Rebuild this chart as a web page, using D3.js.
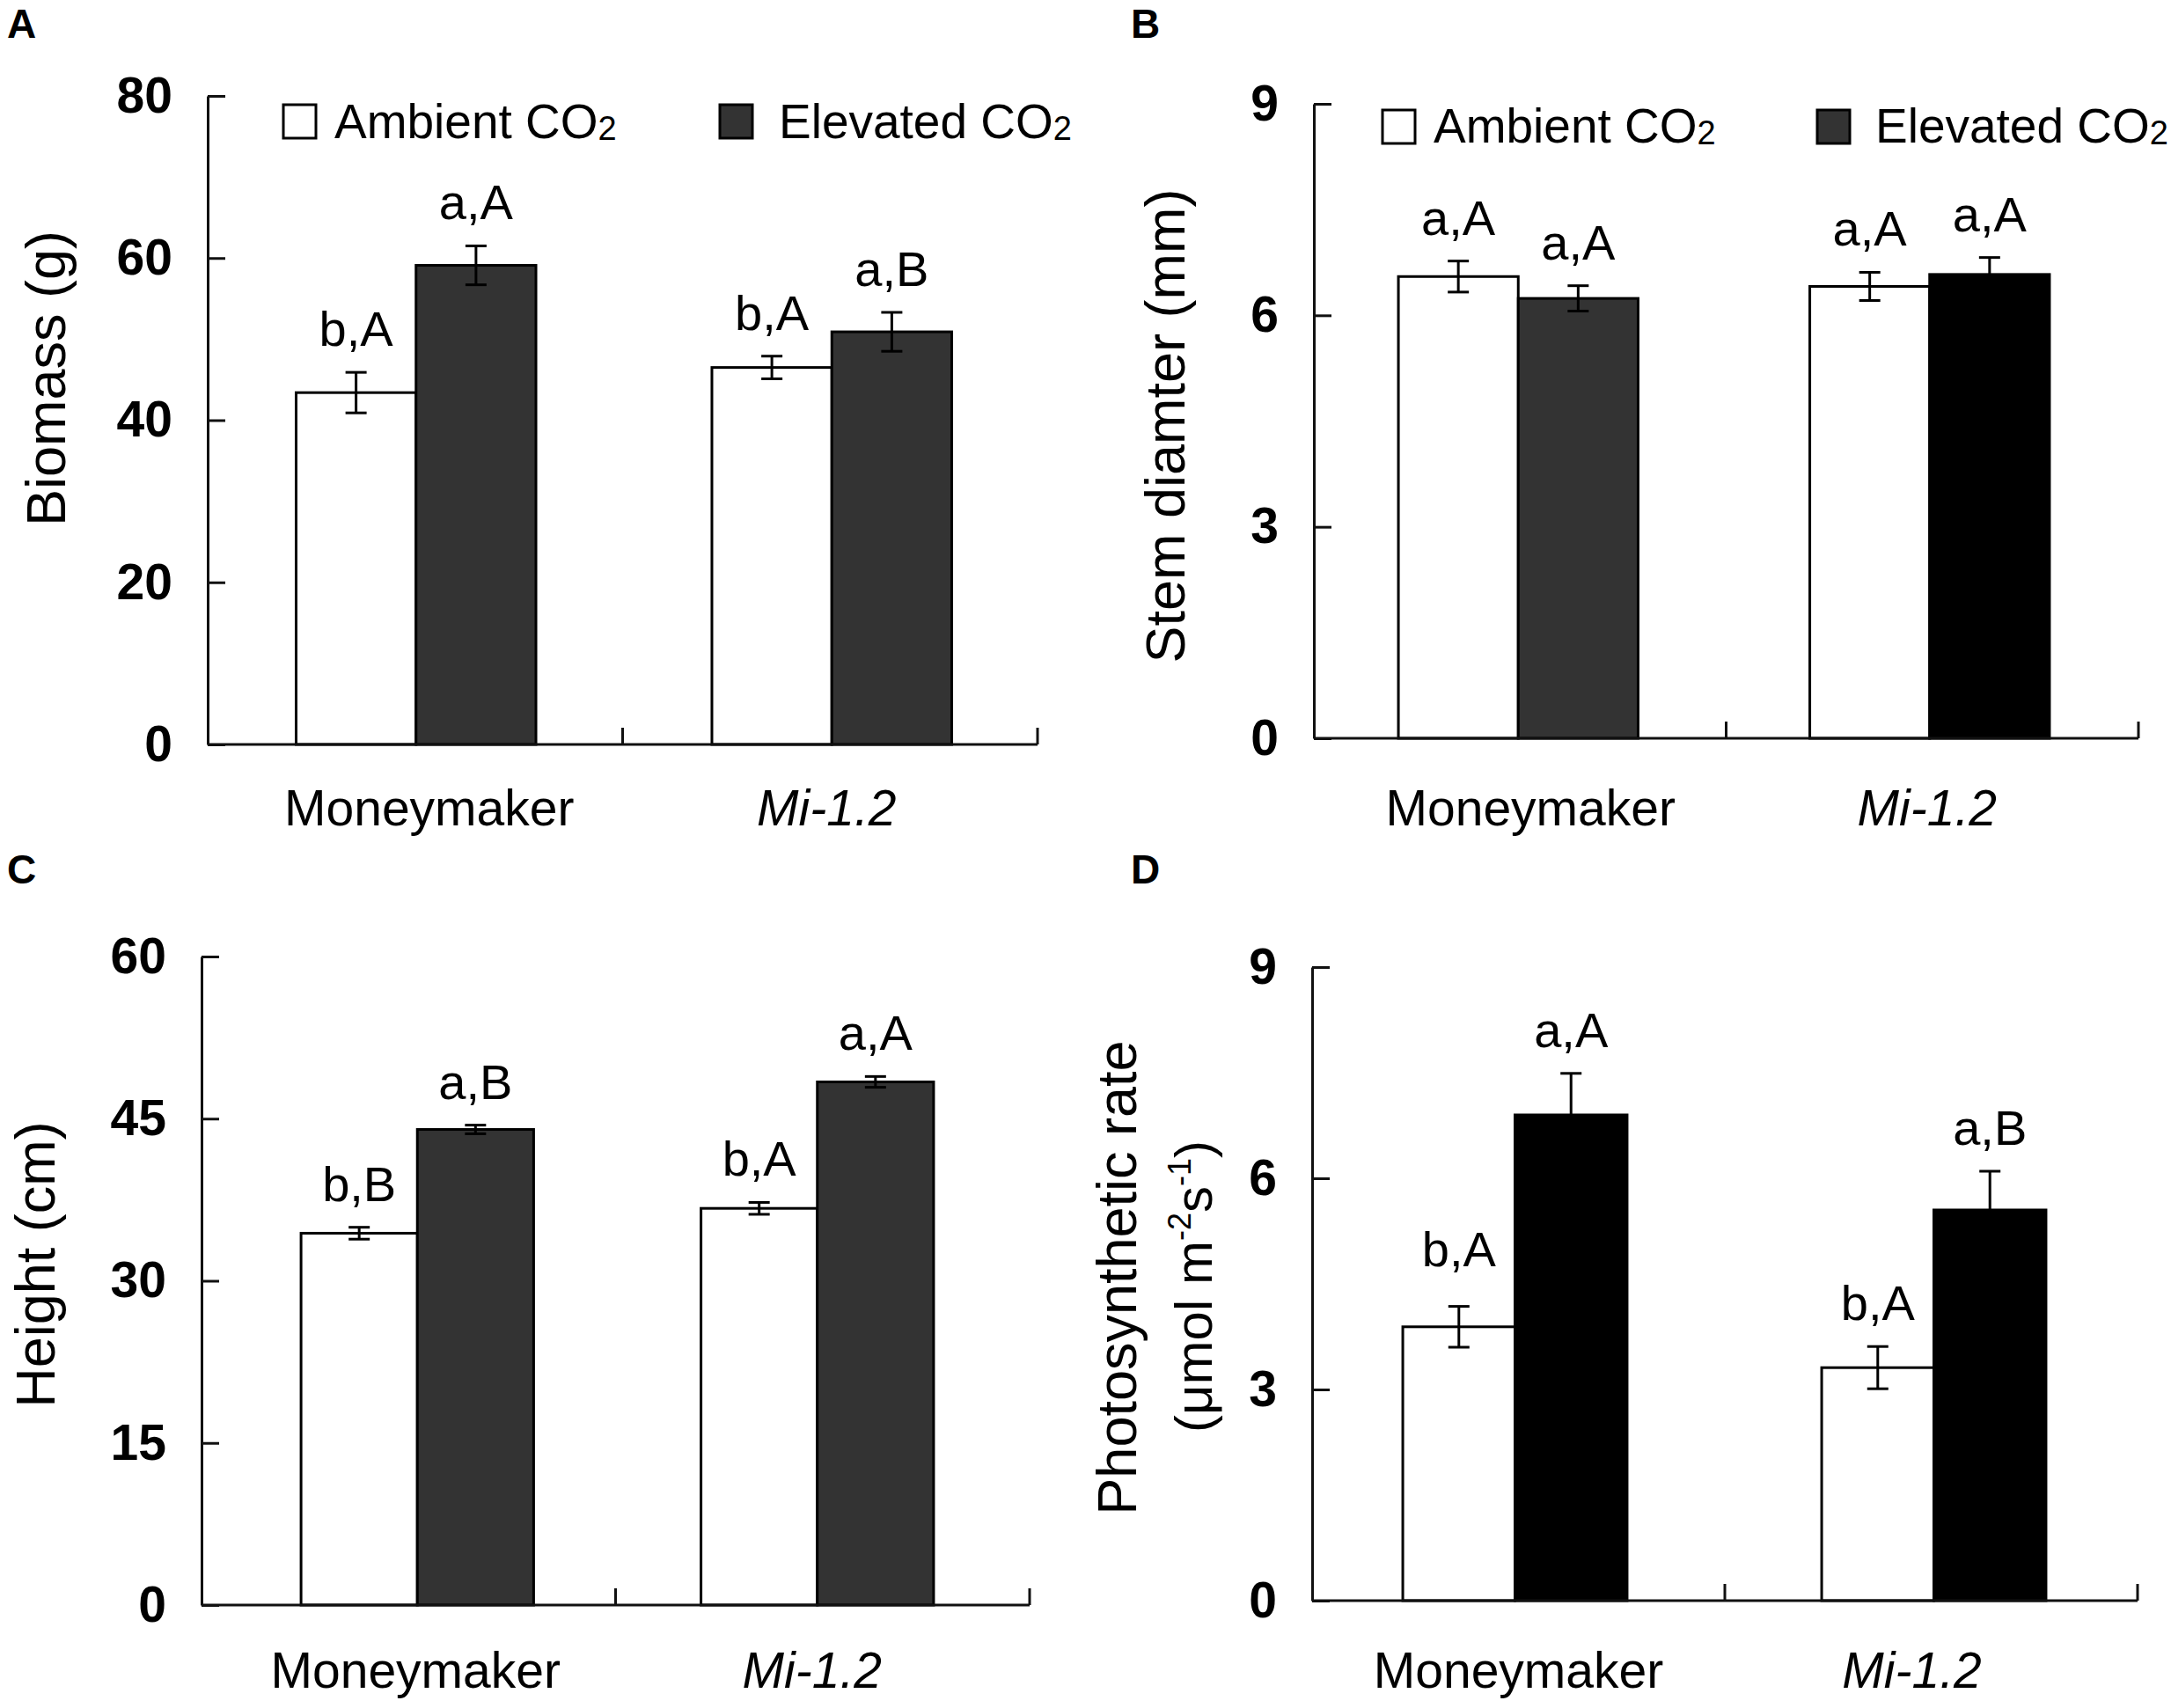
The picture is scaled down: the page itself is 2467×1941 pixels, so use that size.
<!DOCTYPE html>
<html>
<head>
<meta charset="utf-8">
<script src="https://cdn.jsdelivr.net/npm/d3@7/dist/d3.min.js"></script>
<style>
  html, body { margin: 0; padding: 0; background: #fff; }
  svg { display: block; }
  text { font-family: "Liberation Sans", Arial, sans-serif; fill: #000; }
</style>
</head>
<body>
<svg id="chart" width="2467" height="1941"></svg>
<script>
// ---------------- DATA ----------------
const categories = ["Moneymaker", "Mi-1.2"];
const seriesNames = ["Ambient CO", "Elevated CO"]; // subscript "2" appended as tspan

const biomassAmbient = [43.4, 46.5];
const biomassAmbientErr = [2.5, 1.4];
const biomassElevated = [59.1, 50.9];
const biomassElevatedErr = [2.4, 2.4];
const biomassLetters = [["b,A", "a,A"], ["b,A", "a,B"]];
const biomassTicks = [0, 20, 40, 60, 80];

const stemAmbient = [6.55, 6.41];
const stemAmbientErr = [0.22, 0.2];
const stemElevated = [6.24, 6.58];
const stemElevatedErr = [0.18, 0.24];
const stemLetters = [["a,A", "a,A"], ["a,A", "a,A"]];
const stemTicks = [0, 3, 6, 9];

const heightAmbient = [34.4, 36.7];
const heightAmbientErr = [0.55, 0.55];
const heightElevated = [44.0, 48.4];
const heightElevatedErr = [0.4, 0.5];
const heightLetters = [["b,B", "a,B"], ["b,A", "a,A"]];
const heightTicks = [0, 15, 30, 45, 60];

const photoAmbient = [3.89, 3.31];
const photoAmbientErr = [0.29, 0.3];
const photoElevated = [6.9, 5.55];
const photoElevatedErr = [0.59, 0.55];
const photoLetters = [["b,A", "a,A"], ["b,A", "a,B"]];
const photoTicks = [0, 3, 6, 9];

// ---------------- LAYOUT / STYLE ----------------
const panels = [
  { letter: "A", lx: 8, ly: 43,
    x0: 236, x1: 1179, yTop: 109, y0: 846,
    ambient: biomassAmbient, ambErr: biomassAmbientErr,
    elevated: biomassElevated, elevErr: biomassElevatedErr,
    letters: biomassLetters, ticks: biomassTicks,
    elevFill: ["#333333", "#333333"], pad: 0.73, groupDx: [1, 2],
    labelDy: [[0, 0], [0, 0]],
    title: [{ text: "Biomass (g)", x: 74, y: 430 }],
    legend: { y: 119, sq: [322, 818], tx: [380, 885], base: 157 },
    catY: 938, catDx: [16, -4] },
  { letter: "B", lx: 1285, ly: 43,
    x0: 1493, x1: 2430, yTop: 118, y0: 839,
    ambient: stemAmbient, ambErr: stemAmbientErr,
    elevated: stemElevated, elevErr: stemElevatedErr,
    letters: stemLetters, ticks: stemTicks,
    elevFill: ["#333333", "#000000"], pad: 0.72, groupDx: [-2, -3],
    labelDy: [[0, 0], [0, 0]],
    title: [{ text: "Stem diamter (mm)", x: 1346, y: 484 }],
    legend: { y: 125, sq: [1571, 2065], tx: [1629, 2131], base: 162 },
    catY: 938, catDx: [12, -6] },
  { letter: "C", lx: 8, ly: 1004,
    x0: 229, x1: 1170, yTop: 1087, y0: 1824,
    ambient: heightAmbient, ambErr: heightAmbientErr,
    elevated: heightElevated, elevErr: heightElevatedErr,
    letters: heightLetters, ticks: heightTicks,
    elevFill: ["#333333", "#333333"], pad: 0.78, groupDx: [10, -6],
    labelDy: [[0, 0], [0, 0]],
    title: [{ text: "Height (cm)", x: 62, y: 1437 }],
    legend: null,
    catY: 1918, catDx: [8, -12] },
  { letter: "D", lx: 1285, ly: 1004,
    x0: 1491, x1: 2429, yTop: 1099, y0: 1819,
    ambient: photoAmbient, ambErr: photoAmbientErr,
    elevated: photoElevated, elevErr: photoElevatedErr,
    letters: photoLetters, ticks: photoTicks,
    elevFill: ["#000000", "#000000"], pad: 0.84, groupDx: [-4, 3],
    labelDy: [[-16, 0], [0, 0]],
    title: [{ text: "Photosynthetic rate", x: 1291, y: 1452 },
            { text: "(\u03bcmol m", sup1: "-2", mid: "s", sup2: "-1", end: ")", x: 1377, y: 1462 }],
    legend: null,
    catY: 1918, catDx: [0, -22] }
];

const svg = d3.select("#chart");
svg.append("rect").attr("width", 2467).attr("height", 1941).attr("fill", "#fff");

const AX = "#111";

panels.forEach(p => {
  const g = svg.append("g");
  const maxV = p.ticks[p.ticks.length - 1];
  const y = d3.scaleLinear().domain([0, maxV]).range([p.y0, p.yTop]);
  const x = d3.scaleBand().domain(categories).range([p.x0, p.x1]);
  const xs = d3.scaleBand().domain([0, 1]).range([0, x.bandwidth()]).paddingInner(0).paddingOuter(p.pad);

  // panel letter
  g.append("text").attr("x", p.lx).attr("y", p.ly)
    .attr("font-size", 46).attr("font-weight", "bold").text(p.letter);

  // bars
  categories.forEach((c, i) => {
    const vals = [p.ambient[i], p.elevated[i]];
    const errs = [p.ambErr[i], p.elevErr[i]];
    const fills = ["#ffffff", p.elevFill[i]];
    const gx = x(c) + p.groupDx[i];
    vals.forEach((v, s) => {
      g.append("rect")
        .attr("x", gx + xs(s)).attr("y", y(v))
        .attr("width", xs.bandwidth()).attr("height", y(0) - y(v))
        .attr("fill", fills[s]).attr("stroke", "#000").attr("stroke-width", 3);
    });
    vals.forEach((v, s) => {
      const cx = gx + xs(s) + xs.bandwidth() / 2;
      const top = y(v + errs[s]), bot = y(v - errs[s]);
      const eg = g.append("g").attr("stroke", "#000").attr("stroke-width", 3);
      eg.append("line").attr("x1", cx).attr("x2", cx).attr("y1", top).attr("y2", bot);
      eg.append("line").attr("x1", cx - 12).attr("x2", cx + 12).attr("y1", top).attr("y2", top);
      eg.append("line").attr("x1", cx - 12).attr("x2", cx + 12).attr("y1", bot).attr("y2", bot);
      g.append("text").attr("x", cx).attr("y", top - 30 + p.labelDy[i][s])
        .attr("text-anchor", "middle").attr("font-size", 56)
        .text(p.letters[i][s]);
    });
  });

  // y axis
  const yAxis = d3.axisLeft(y).tickValues(p.ticks).tickSizeInner(-20).tickSizeOuter(0).tickPadding(40)
    .tickFormat(d3.format("d"));
  const ya = g.append("g").attr("transform", `translate(${p.x0},0)`).call(yAxis);
  ya.select(".domain").attr("stroke", AX).attr("stroke-width", 3);
  ya.selectAll(".tick line").attr("stroke", AX).attr("stroke-width", 3);
  ya.selectAll(".tick text").attr("font-size", 57).attr("font-weight", "bold")
    .attr("font-family", "'Liberation Sans', Arial, sans-serif").attr("fill", "#000");

  // x axis
  g.append("line").attr("x1", p.x0).attr("x2", p.x1).attr("y1", p.y0).attr("y2", p.y0)
    .attr("stroke", AX).attr("stroke-width", 3);
  categories.forEach(c => {
    const bx = x(c) + x.bandwidth();
    g.append("line").attr("x1", bx).attr("x2", bx).attr("y1", p.y0).attr("y2", p.y0 - 19)
      .attr("stroke", AX).attr("stroke-width", 3);
  });
  categories.forEach((c, i) => {
    g.append("text").attr("x", x(c) + x.bandwidth() / 2 + p.catDx[i]).attr("y", p.catY)
      .attr("text-anchor", "middle").attr("font-size", 57)
      .attr("font-style", i === 1 ? "italic" : "normal").text(c);
  });

  // y titles
  p.title.forEach(t => {
    const tt = g.append("text").attr("transform", `translate(${t.x},${t.y}) rotate(-90)`)
      .attr("text-anchor", "middle").attr("font-size", t.sup1 ? 60 : 63);
    if (t.sup1) {
      tt.append("tspan").text(t.text);
      tt.append("tspan").attr("font-size", 36).attr("dy", -24).text(t.sup1);
      tt.append("tspan").attr("dy", 24).text(t.mid);
      tt.append("tspan").attr("font-size", 36).attr("dy", -24).text(t.sup2);
      tt.append("tspan").attr("dy", 24).text(t.end);
    } else {
      tt.text(t.text);
    }
  });

  // legend
  if (p.legend) {
    const L = p.legend;
    const fillsL = ["#ffffff", "#333333"];
    seriesNames.forEach((name, s) => {
      g.append("rect").attr("x", L.sq[s]).attr("y", L.y).attr("width", 37).attr("height", 38)
        .attr("fill", fillsL[s]).attr("stroke", "#000").attr("stroke-width", 3);
      const t = g.append("text").attr("x", L.tx[s]).attr("y", L.base).attr("font-size", 55);
      t.append("tspan").text(name);
      t.append("tspan").attr("font-size", 38).attr("dy", 2).text("2");
    });
  }
});
</script>
</body>
</html>
